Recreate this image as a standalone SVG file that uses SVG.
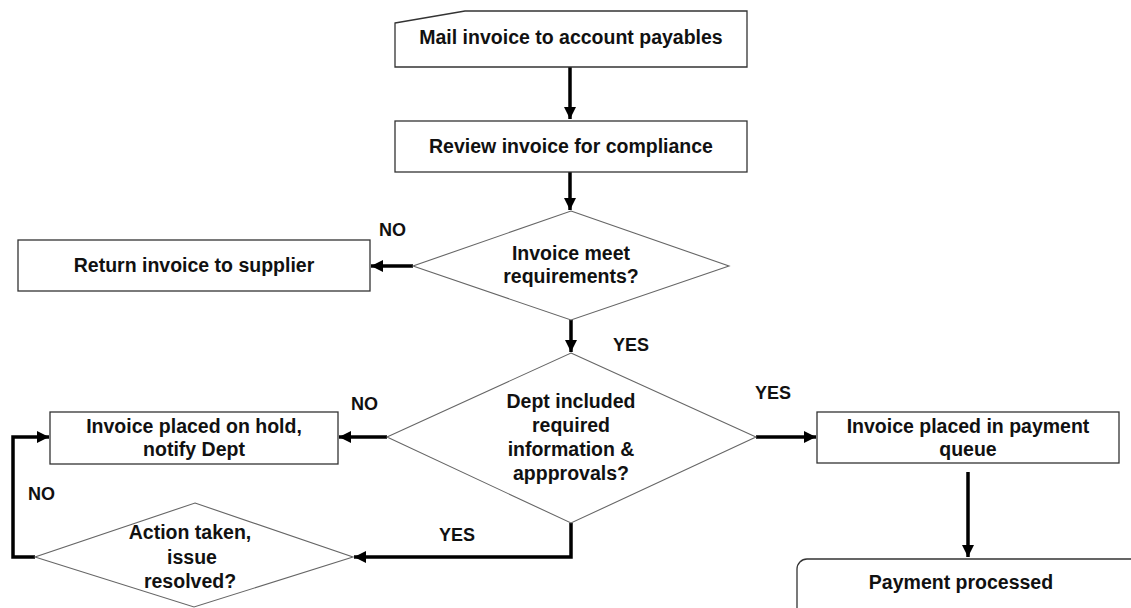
<svg xmlns="http://www.w3.org/2000/svg" width="1131" height="608" viewBox="0 0 1131 608">
<defs>
<style>
.box{fill:#fff;stroke:#333;stroke-width:1.3}
.dia{fill:#fff;stroke:#666;stroke-width:1.1}
.t{font-family:"Liberation Sans",Arial,sans-serif;font-weight:bold;font-size:19.5px;fill:#111;text-anchor:middle}
.lbl{font-family:"Liberation Sans",Arial,sans-serif;font-weight:bold;font-size:18px;fill:#111}
.c{fill:none;stroke:#000;stroke-width:3.5}
</style>
<marker id="ah" markerWidth="12" markerHeight="12" refX="10" refY="5" orient="auto" markerUnits="userSpaceOnUse" viewBox="0 0 10 10">
<path d="M0,0 L10,5 L0,10 z" fill="#000"/>
</marker>
</defs>
<rect width="1131" height="608" fill="#fff"/>
<g id="connectors">
<path class="c" d="M570,67 V119" marker-end="url(#ah)"/>
<path class="c" d="M570,172 V210" marker-end="url(#ah)"/>
<path class="c" d="M413,266 H371" marker-end="url(#ah)"/>
<path class="c" d="M571,320 V352" marker-end="url(#ah)"/>
<path class="c" d="M387,437 H339" marker-end="url(#ah)"/>
<path class="c" d="M756,437 H816" marker-end="url(#ah)"/>
<path class="c" d="M968,472 V557" marker-end="url(#ah)"/>
<path class="c" d="M571,523 V557 H354" marker-end="url(#ah)"/>
<path class="c" d="M35,557 H13 V437 H49" marker-end="url(#ah)"/>
</g>
<g id="mail">
<polygon class="box" points="395,23 465,11 747,11 747,67 395,67"/>
<text class="t" x="571" y="44">Mail invoice to account payables</text>
</g>
<g id="review">
<rect class="box" x="395" y="121" width="352" height="51"/>
<text class="t" x="571" y="153">Review invoice for compliance</text>
</g>
<g id="meet">
<polygon class="dia" points="571,211 729,266 571,320 413,266"/>
<text class="t" x="571" y="260">Invoice meet</text>
<text class="t" x="571" y="283">requirements?</text>
</g>
<g id="return">
<rect class="box" x="18" y="240" width="352" height="51"/>
<text class="t" x="194" y="272">Return invoice to supplier</text>
</g>
<g id="dept">
<polygon class="dia" points="571,353 756,437 571,523 387,437"/>
<text class="t" x="571" y="408">Dept included</text>
<text class="t" x="571" y="432">required</text>
<text class="t" x="571" y="456">information &amp;</text>
<text class="t" x="571" y="480">appprovals?</text>
</g>
<g id="hold">
<rect class="box" x="50" y="412" width="288" height="52"/>
<text class="t" x="194" y="433">Invoice placed on hold,</text>
<text class="t" x="194" y="456">notify Dept</text>
</g>
<g id="queue">
<rect class="box" x="817" y="412" width="302" height="51"/>
<text class="t" x="968" y="433">Invoice placed in payment</text>
<text class="t" x="968" y="456">queue</text>
</g>
<g id="action">
<polygon class="dia" points="195,503 353,557 194,607 35,557"/>
<text class="t" x="190" y="539">Action taken,</text>
<text class="t" x="192" y="564">issue</text>
<text class="t" x="190" y="588">resolved?</text>
</g>
<g id="processed">
<rect class="box" x="797" y="559" width="345" height="70" rx="10"/>
<text class="t" x="961" y="589">Payment processed</text>
</g>
<g id="labels">
<text class="lbl" x="379" y="236">NO</text>
<text class="lbl" x="613" y="351">YES</text>
<text class="lbl" x="351" y="410">NO</text>
<text class="lbl" x="755" y="399">YES</text>
<text class="lbl" x="439" y="541">YES</text>
<text class="lbl" x="28" y="500">NO</text>
</g>
</svg>
